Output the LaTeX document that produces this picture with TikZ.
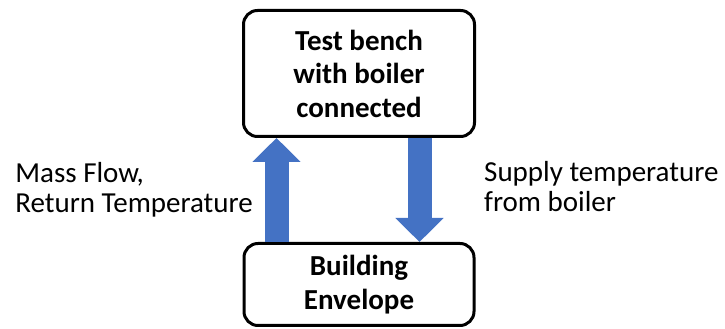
\documentclass[tikz,border=0pt]{standalone}
\usepackage{fontspec}
\setmainfont{Carlito}
\usetikzlibrary{arrows.meta,positioning,calc}
\definecolor{cFlow}{HTML}{4472C4}
\definecolor{cInk}{HTML}{000000}
\tikzset{
  box/.style  = {draw=cInk, line width=3pt, rounded corners=14pt, align=center,
                 inner sep=0pt, font=\fontsize{29}{33.5}\selectfont\bfseries},
  flow/.style = {draw=cFlow, line width=24pt,
                 -{Triangle[length=24pt, width=47pt]}},
  note/.style = {font=\fontsize{29}{30}\selectfont, text=cInk, inner sep=0pt},
}

\begin{document}
\begin{tikzpicture}[x=1pt, y=1pt]
  \useasboundingbox (0,0) rectangle (725,329);
  % ---- the two blocks ----
  \node[box, minimum width=231pt, minimum height=126pt] (bench) at (359,255.5)
    {Test bench\\ with boiler\\ connected};
  \node[box, below=104pt of bench, minimum width=230pt, minimum height=82pt] (env)
    {Building\\ Envelope};
  % ---- block arrows between them ----
  \coordinate (upx) at (276.5,0);
  \coordinate (dnx) at (419.5,0);
  \draw[flow] (env.north -| upx) -- (bench.south -| upx);
  \draw[flow] (bench.south -| dnx) -- (env.north -| dnx);
  % labels sit beside the arrows
  \node[note, align=left, anchor=east] (ret) at (253,139)
    {Mass Flow,\\ Return Temperature};
  \node[note, align=left, anchor=west] (sup) at (484,142)
    {Supply temperature\\ from boiler};
\end{tikzpicture}
\end{document}
